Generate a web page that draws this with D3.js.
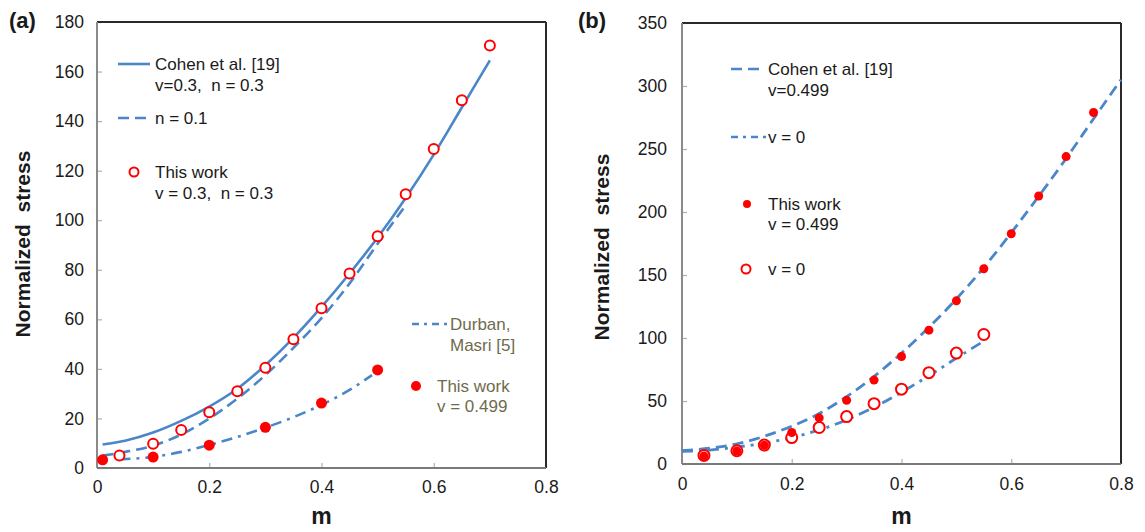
<!DOCTYPE html>
<html>
<head>
<meta charset="utf-8">
<script src="https://cdn.jsdelivr.net/npm/d3@7"></script>
<style>
  html, body { margin: 0; padding: 0; background: #ffffff; }
  svg { display: block; }
  text { font-family: "Liberation Sans", Arial, sans-serif; white-space: pre; }
</style>
</head>
<body>
<svg id="chart" width="1145" height="532"></svg>
<script>
// ---------- DATA ----------
// Panel (a)
const aXTicks = [0, 0.2, 0.4, 0.6, 0.8];
const aXTickLabels = ["0", "0.2", "0.4", "0.6", "0.8"];
const aYTicks = [0, 20, 40, 60, 80, 100, 120, 140, 160, 180];
const aYTickLabels = ["0", "20", "40", "60", "80", "100", "120", "140", "160", "180"];

const aCohenM = [0.01, 0.05, 0.1, 0.15, 0.2, 0.25, 0.3, 0.35, 0.4, 0.45, 0.5, 0.55, 0.6, 0.65, 0.7];
const aCohenS = [9.5, 11, 14.3, 19, 24.8, 32, 41.5, 52.5, 65, 78.5, 93, 109, 126.5, 145.5, 164.5];

const aN01M = [0.01, 0.05, 0.1, 0.15, 0.2, 0.25, 0.3, 0.35, 0.4, 0.45, 0.5, 0.55];
const aN01S = [5, 6.5, 9, 13.5, 20, 28, 37.5, 48.5, 60.5, 74.5, 90.5, 106];

const aDurbanM = [0.04, 0.1, 0.15, 0.2, 0.25, 0.3, 0.35, 0.4, 0.45, 0.49];
const aDurbanS = [3.5, 4.5, 6.5, 9.3, 12.5, 16.3, 20.5, 25.5, 31.5, 37.5];

const aOpenM = [0.04, 0.1, 0.15, 0.2, 0.25, 0.3, 0.35, 0.4, 0.45, 0.5, 0.55, 0.6, 0.65, 0.7];
const aOpenS = [5, 9.8, 15.3, 22.5, 31, 40.5, 52, 64.5, 78.5, 93.5, 110.5, 128.7, 148.4, 170.5];

const aFilledM = [0.01, 0.1, 0.2, 0.3, 0.4, 0.5];
const aFilledS = [3.3, 4.4, 9.2, 16.4, 26.2, 39.6];

// Panel (b)
const bXTicks = [0, 0.2, 0.4, 0.6, 0.8];
const bXTickLabels = ["0", "0.2", "0.4", "0.6", "0.8"];
const bYTicks = [0, 50, 100, 150, 200, 250, 300, 350];
const bYTickLabels = ["0", "50", "100", "150", "200", "250", "300", "350"];

const bCohenM = [0, 0.05, 0.1, 0.15, 0.2, 0.25, 0.3, 0.35, 0.4, 0.45, 0.5, 0.55, 0.6, 0.65, 0.7, 0.75, 0.8];
const bCohenS = [10.5, 12.5, 16, 22, 30, 40, 53.5, 69.5, 88, 108.5, 131, 156, 183.5, 212.5, 242.5, 274, 305];

const bV0M = [0, 0.05, 0.1, 0.15, 0.2, 0.25, 0.3, 0.35, 0.4, 0.45, 0.5, 0.55];
const bV0S = [10, 11, 13.5, 16.5, 21, 27, 35, 45, 57, 70, 84, 97.5];

const bFilledM = [0.04, 0.1, 0.15, 0.2, 0.25, 0.3, 0.35, 0.4, 0.45, 0.5, 0.55, 0.6, 0.65, 0.7, 0.75];
const bFilledS = [6.3, 10.3, 14.8, 25, 36.6, 50.5, 66.6, 85.3, 106.2, 129.5, 155, 182.7, 212.7, 244, 279];

const bOpenM = [0.04, 0.1, 0.15, 0.2, 0.25, 0.3, 0.35, 0.4, 0.45, 0.5, 0.55];
const bOpenS = [6.8, 10.5, 15, 21, 29, 37.6, 47.9, 59.4, 72.5, 88, 102.8];

// ---------- STYLE ----------
const BLUE = "#4a86c8";
const RED = "#ff0000";
const OLIVE = "#6f6b4e";
const DASH = "11,6";
const DASHDOT = "11,6,3,6";

const svg = d3.select("#chart");
svg.append("rect").attr("width", 1145).attr("height", 532).attr("fill", "#fff");

function zip(xs, ys) { return xs.map((x, i) => [x, ys[i]]); }

function panel(cfg) {
  const x = d3.scaleLinear().domain([0, 0.8]).range([cfg.left, cfg.right]);
  const y = d3.scaleLinear().domain(cfg.yDomain).range([cfg.bottom, cfg.top]);
  const g = svg.append("g");

  // axes with inward ticks
  const yAxis = d3.axisLeft(y).tickValues(cfg.yTicks)
    .tickFormat((d, i) => cfg.yLabels[i]).tickSize(-5).tickPadding(cfg.yPad);
  const ya = g.append("g").attr("transform", `translate(${cfg.left},0)`).call(yAxis);
  const xAxis = d3.axisBottom(x).tickValues(cfg.xTicks)
    .tickFormat((d, i) => cfg.xLabels[i]).tickSize(-5).tickPadding(cfg.xPad);
  const xa = g.append("g").attr("transform", `translate(0,${cfg.bottom})`).call(xAxis);
  [ya, xa].forEach(a => {
    a.select(".domain").remove();
    a.selectAll(".tick line").attr("stroke", "#b0b0b0").attr("stroke-width", 1.2);
    a.selectAll(".tick text").attr("fill", "#1a1a1a")
      .style("font-size", "17.5px").style("font-family", "Liberation Sans, Arial, sans-serif");
  });

  // frame
  g.append("line").attr("x1", cfg.left).attr("x2", cfg.right).attr("y1", cfg.top).attr("y2", cfg.top)
    .attr("stroke", "#2a2a2a").attr("stroke-width", 2);
  g.append("line").attr("x1", cfg.right).attr("x2", cfg.right).attr("y1", cfg.top).attr("y2", cfg.bottom)
    .attr("stroke", "#2a2a2a").attr("stroke-width", 2);
  g.append("line").attr("x1", cfg.left).attr("x2", cfg.left).attr("y1", cfg.top).attr("y2", cfg.bottom)
    .attr("stroke", "#8a8a8a").attr("stroke-width", 2);
  g.append("line").attr("x1", cfg.left).attr("x2", cfg.right).attr("y1", cfg.bottom).attr("y2", cfg.bottom)
    .attr("stroke", "#7a7a7a").attr("stroke-width", 2);

  // titles
  g.append("text").attr("x", (cfg.left + cfg.right) / 2).attr("y", cfg.mY)
    .attr("text-anchor", "middle").attr("font-weight", "bold").attr("font-size", 23)
    .attr("fill", "#1a1a1a").text("m");
  g.append("text").attr("transform", `translate(${cfg.yTitleX},${cfg.yTitleY}) rotate(-90)`)
    .attr("text-anchor", "middle").attr("font-weight", "bold").attr("font-size", 21)
    .attr("fill", "#1a1a1a").attr("dominant-baseline", "central").text("Normalized  stress");
  g.append("text").attr("x", cfg.tagX).attr("y", cfg.tagY)
    .attr("font-weight", "bold").attr("font-size", 22).attr("fill", "#1a1a1a").text(cfg.tag);

  const line = d3.line().x(d => x(d[0])).y(d => y(d[1])).curve(d3.curveMonotoneX);
  cfg.lines.forEach(l => {
    g.append("path").datum(zip(l.m, l.s)).attr("d", line)
      .attr("fill", "none").attr("stroke", BLUE).attr("stroke-width", l.w || 2.6)
      .attr("stroke-dasharray", l.dash || null);
  });
  cfg.points.forEach(p => {
    g.append("g").selectAll("circle").data(zip(p.m, p.s)).join("circle")
      .attr("cx", d => x(d[0])).attr("cy", d => y(d[1])).attr("r", p.r)
      .attr("fill", p.open ? "#fff" : RED)
      .attr("stroke", p.open ? RED : "none").attr("stroke-width", p.open ? 2 : 0);
  });

  // legend
  const lg = g.append("g");
  cfg.legend.forEach(it => {
    if (it.kind === "line") {
      lg.append("line").attr("x1", it.x1).attr("x2", it.x2).attr("y1", it.y).attr("y2", it.y)
        .attr("stroke", BLUE).attr("stroke-width", 2.6).attr("stroke-dasharray", it.dash || null);
    } else if (it.kind === "dot") {
      lg.append("circle").attr("cx", it.x).attr("cy", it.y).attr("r", it.r)
        .attr("fill", it.open ? "#fff" : RED).attr("stroke", it.open ? RED : "none")
        .attr("stroke-width", it.open ? 2 : 0);
    }
    (it.text || []).forEach((t, i) => {
      lg.append("text").attr("x", it.tx).attr("y", it.ty[i]).attr("dominant-baseline", "central")
        .attr("font-size", 17).attr("fill", it.color || "#1a1a1a").text(t);
    });
  });
}

panel({
  left: 97, right: 546, top: 22, bottom: 468, yDomain: [0, 180],
  xTicks: aXTicks, xLabels: aXTickLabels, yTicks: aYTicks, yLabels: aYTickLabels,
  yPad: 13, xPad: 13, mY: 524, yTitleX: 22, yTitleY: 244, tag: "(a)", tagX: 9, tagY: 28,
  lines: [
    { m: aCohenM, s: aCohenS },
    { m: aN01M, s: aN01S, dash: DASH },
    { m: aDurbanM, s: aDurbanS, dash: DASHDOT }
  ],
  points: [
    { m: aOpenM, s: aOpenS, r: 5, open: true },
    { m: aFilledM, s: aFilledS, r: 5.5, open: false }
  ],
  legend: [
    { kind: "line", x1: 118, x2: 150, y: 64, text: ["Cohen et al. [19]", "v=0.3,  n = 0.3"], tx: 155, ty: [64, 85] },
    { kind: "line", x1: 118, x2: 147, y: 118, dash: DASH, text: ["n = 0.1"], tx: 155, ty: [118] },
    { kind: "dot", x: 134, y: 172, r: 4.5, open: true, text: ["This work", "v = 0.3,  n = 0.3"], tx: 155, ty: [172, 193] },
    { kind: "line", x1: 412, x2: 447, y: 324, dash: "7,5,3,5", text: ["Durban,", "Masri [5]"], tx: 450, ty: [324, 345], color: OLIVE },
    { kind: "dot", x: 416, y: 386, r: 5, open: false, text: ["This work", "v = 0.499"], tx: 437, ty: [386, 406], color: OLIVE }
  ]
});

panel({
  left: 682, right: 1121, top: 23, bottom: 464, yDomain: [0, 350],
  xTicks: bXTicks, xLabels: bXTickLabels, yTicks: bYTicks, yLabels: bYTickLabels,
  yPad: 15, xPad: 14, mY: 524, yTitleX: 601, yTitleY: 247, tag: "(b)", tagX: 578, tagY: 28,
  lines: [
    { m: bCohenM, s: bCohenS, dash: DASH, w: 2.8 },
    { m: bV0M, s: bV0S, dash: DASHDOT, w: 2.8 }
  ],
  points: [
    { m: bOpenM, s: bOpenS, r: 5.5, open: true },
    { m: bFilledM, s: bFilledS, r: 4.5, open: false }
  ],
  legend: [
    { kind: "line", x1: 731, x2: 760, y: 69, dash: DASH, text: ["Cohen et al. [19]", "v=0.499"], tx: 768, ty: [69, 90] },
    { kind: "line", x1: 731, x2: 766, y: 137, dash: "7,5,3,5", text: ["v = 0"], tx: 768, ty: [137] },
    { kind: "dot", x: 747, y: 204, r: 4, open: false, text: ["This work", "v = 0.499"], tx: 768, ty: [204, 224] },
    { kind: "dot", x: 746, y: 269, r: 4.5, open: true, text: ["v = 0"], tx: 768, ty: [269] }
  ]
});
</script>
</body>
</html>
